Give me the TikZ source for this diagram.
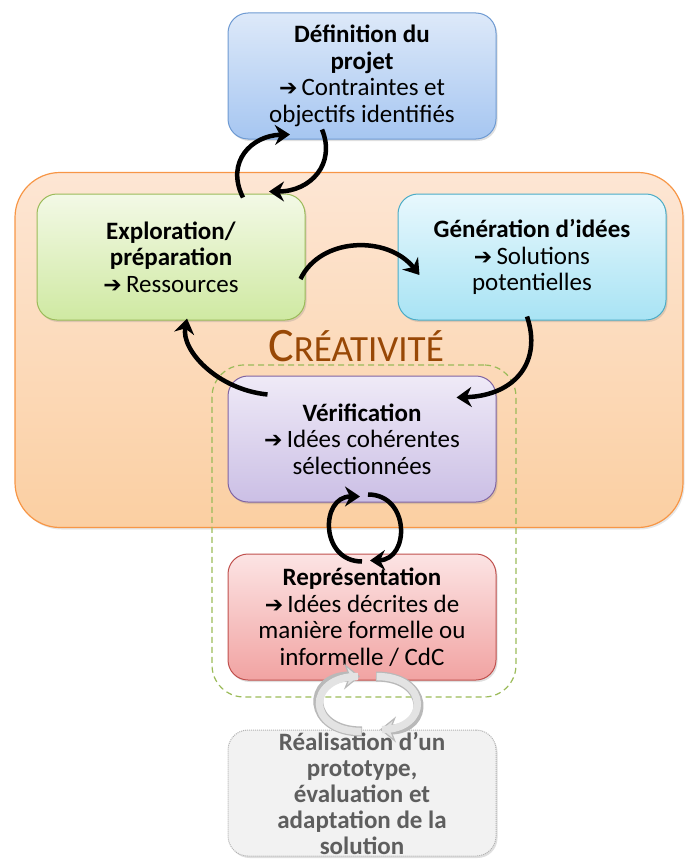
\documentclass[tikz,border=0pt]{standalone}
\usepackage{fontspec}
\setmainfont{Carlito}
\newfontfamily\dv{DejaVu Sans}
\usetikzlibrary{calc,arrows.meta,shadows}
\definecolor{orbord}{HTML}{F79646}
\definecolor{ortop}{HTML}{FDE6D4}
\definecolor{orbot}{HTML}{FBCFA2}
\definecolor{bltop}{HTML}{DDE9F9}
\definecolor{blbot}{HTML}{A6C6F1}
\definecolor{blbord}{HTML}{6E9AD2}
\definecolor{grtop}{HTML}{F3F9E6}
\definecolor{grbot}{HTML}{CFE9A2}
\definecolor{grbord}{HTML}{9BBB59}
\definecolor{cytop}{HTML}{E8F8FD}
\definecolor{cybot}{HTML}{A8E3F4}
\definecolor{cybord}{HTML}{4BACC6}
\definecolor{putop}{HTML}{EFEAF7}
\definecolor{pubot}{HTML}{CBBFE5}
\definecolor{pubord}{HTML}{8064A2}
\definecolor{retop}{HTML}{FCE4E4}
\definecolor{rebot}{HTML}{F1A3A2}
\definecolor{rebord}{HTML}{C0504D}
\definecolor{brown}{HTML}{984806}
\definecolor{greytxt}{HTML}{5E5E5E}
\newcommand{\ar}{{\dv\bfseries\fontsize{22}{20}\selectfont ➔}\,}
\tikzset{
  box/.style={rounded corners=20pt, minimum width=268pt, minimum height=126pt,
    align=center, font=\fontsize{25}{26.5}\selectfont, line width=1pt, inner sep=0pt,
    drop shadow={opacity=0.25, shadow xshift=1.5pt, shadow yshift=-2pt}},
  cyc/.style={line width=4.5pt, -{Stealth[length=15pt,width=20pt]}},
  gback/.style={line width=10pt, draw=gray!55, -{Stealth[length=16pt,width=26pt,fill=gray!22,line width=1.2pt]}},
  gfront/.style={line width=7.4pt, draw=gray!22, shorten >=2pt, shorten <=0.6pt},
}
\begin{document}
\begin{tikzpicture}[x=1pt,y=-1pt]
\useasboundingbox (0,0) rectangle (686,859);
% creativity frame
\node[draw=orbord, line width=1.2pt, top color=ortop, bottom color=orbot,
  rounded corners=45pt, minimum width=668pt, minimum height=355pt, inner sep=0pt,
  drop shadow={opacity=0.2, shadow xshift=1.5pt, shadow yshift=-2pt}] (crea) at (349,350) {};
% dashed green frame
\node[draw=grbord, line width=1.2pt, dash pattern=on 6pt off 4pt,
  rounded corners=32pt, minimum width=304pt, minimum height=332pt, inner sep=0pt] (zone) at (364,531) {};
\node[text=brown, inner sep=0pt] (title) at (356,346)
  {{\fontsize{48}{48}\selectfont C}{\fontsize{37}{37}\selectfont RÉATIVITÉ}};
% boxes
\node[box, draw=blbord, top color=bltop, bottom color=blbot] (def) at (362,76)
  {\textbf{Définition du}\\\textbf{projet}\\\ar Contraintes et\\objectifs identifiés};
\node[box, draw=grbord, top color=grtop, bottom color=grbot] (expl) at (171,257)
  {\textbf{Exploration/}\\\textbf{préparation}\\\ar Ressources};
\node[box, draw=cybord, top color=cytop, bottom color=cybot] (gen) at (532,257)
  {\textbf{Génération d’idées}\\\ar Solutions\\potentielles};
\node[box, draw=pubord, top color=putop, bottom color=pubot] (verif) at (362,439)
  {\textbf{Vérification}\\\ar Idées cohérentes\\sélectionnées};
\node[box, draw=rebord, top color=retop, bottom color=rebot] (repr) at (362,617)
  {\textbf{Représentation}\\\ar Idées décrites de\\manière formelle ou\\informelle / CdC};
\node[box, draw=gray!60, densely dotted, fill=gray!10, text=greytxt, drop shadow={opacity=0}, font=\fontsize{25}{26}\selectfont\bfseries] (real) at (362,793)
  {Réalisation d’un\\prototype,\\évaluation et\\adaptation de la\\solution};
% arrows: definition <-> exploration
\draw[cyc] ($(expl.north)+(72,4)$) .. controls ($(expl.north)+(54,-32)$) and ($(def.south)+(-110,-4)$) .. ($(def.south)+(-72,-5)$);
\draw[cyc] ($(def.south)+(-40,-10)$) .. controls ($(def.south)+(-26,24)$) and ($(expl.north)+(140,-2)$) .. ($(expl.north)+(98,-2)$);
% exploration -> generation
\draw[cyc] ($(expl.east)+(-5,22)$) .. controls ($(expl.east)+(15,-20)$) and ($(gen.west)+(-10,-22)$) .. ($(gen.west)+(22,18)$);
% generation -> verification
\draw[cyc] ($(gen.south)+(-5,-4)$) .. controls ($(gen.south)+(10,40)$) and ($(verif.north east)+(20,20)$) .. ($(verif.north east)+(-40,22)$);
% verification -> exploration
\draw[cyc] ($(verif.north west)+(40,19)$) .. controls ($(verif.north west)+(-10,14)$) and ($(expl.south)+(10,30)$) .. ($(expl.south)+(16,-2)$);
% verification <-> representation
\draw[cyc] ($(repr.north)+(0,8)$) .. controls ($(repr.north)+(-42,8)$) and ($(verif.south)+(-42,-6)$) .. ($(verif.south)+(-2,-6)$);
\draw[cyc] ($(verif.south)+(6,-8)$) .. controls ($(verif.south)+(48,-8)$) and ($(repr.north)+(48,6)$) .. ($(repr.north)+(8,7)$);
% representation <-> realisation (grey)
\draw[gback] ($(real.north)+(0,2)$) .. controls ($(real.north)+(-56,2)$) and ($(repr.south)+(-56,-4)$) .. ($(repr.south)+(-2,-4)$);
\draw[gfront] ($(real.north)+(0,2)$) .. controls ($(real.north)+(-56,2)$) and ($(repr.south)+(-56,-4)$) .. ($(repr.south)+(-2,-4)$);
\draw[gback] ($(repr.south)+(14,-4)$) .. controls ($(repr.south)+(68,-4)$) and ($(real.north)+(68,0)$) .. ($(real.north)+(18,0)$);
\draw[gfront] ($(repr.south)+(14,-4)$) .. controls ($(repr.south)+(68,-4)$) and ($(real.north)+(68,0)$) .. ($(real.north)+(18,0)$);
\end{tikzpicture}
\end{document}
